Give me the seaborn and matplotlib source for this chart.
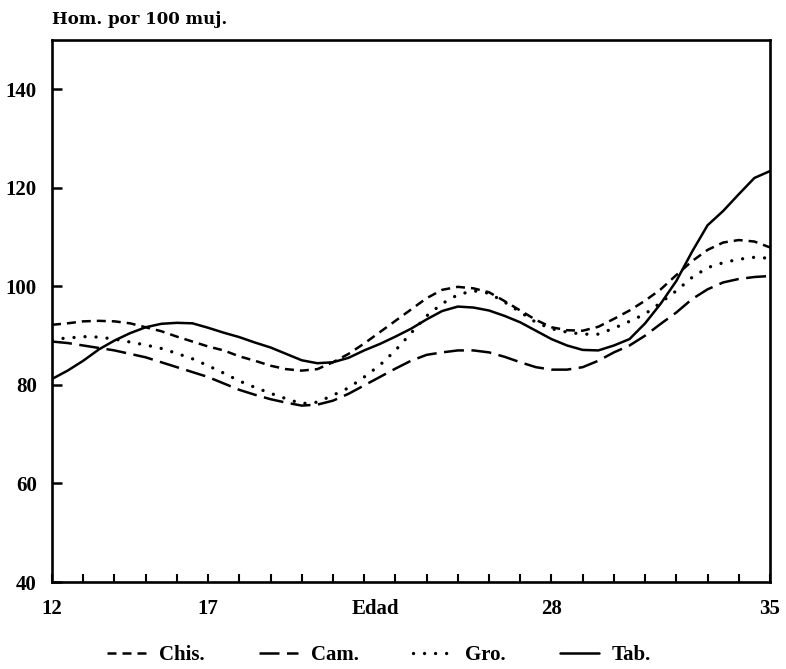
import numpy as np
import pandas as pd
import matplotlib
matplotlib.use("Agg")
import matplotlib.pyplot as plt
import seaborn as sns
from matplotlib.lines import Line2D

# ages read every half year
ages = [12.0, 12.5, 13.0, 13.5, 14.0, 14.5, 15.0, 15.5, 16.0, 16.5, 17.0, 17.5,
        18.0, 18.5, 19.0, 19.5, 20.0, 20.5, 21.0, 21.5, 22.0, 22.5, 23.0, 23.5,
        24.0, 24.5, 25.0, 25.5, 26.0, 26.5, 27.0, 27.5, 28.0, 28.5, 29.0, 29.5,
        30.0, 30.5, 31.0, 31.5, 32.0, 32.5, 33.0, 33.5, 34.0, 34.5, 35.0]
chis = [92.2, 92.5, 92.9, 93.0, 92.9, 92.5, 91.7, 90.9, 89.8, 88.8, 87.8, 87.0,
        85.8, 84.9, 83.9, 83.2, 82.9, 83.2, 84.6, 86.3, 88.4, 90.7, 93.0, 95.3,
        97.6, 99.3, 99.9, 99.6, 98.8, 97.0, 95.1, 93.2, 91.7, 91.1, 91.0, 91.8,
        93.4, 95.1, 97.1, 99.4, 102.3, 105.1, 107.4, 108.9, 109.4, 109.1, 107.9]
cam = [88.8, 88.5, 88.0, 87.5, 87.0, 86.3, 85.6, 84.6, 83.6, 82.6, 81.6, 80.3,
       79.0, 78.0, 77.1, 76.4, 75.8, 76.0, 76.8, 78.2, 79.9, 81.6, 83.3, 84.9,
       86.1, 86.6, 87.0, 87.0, 86.6, 85.7, 84.6, 83.6, 83.1, 83.1, 83.6, 84.9,
       86.6, 88.0, 90.0, 92.4, 94.7, 97.4, 99.4, 100.8, 101.5, 101.9, 102.1]
gro = [89.3, 89.5, 89.8, 89.7, 89.3, 88.7, 88.1, 87.4, 86.4, 85.3, 83.9, 82.4,
       80.8, 79.5, 78.3, 77.2, 76.2, 76.5, 77.9, 79.4, 81.6, 84.0, 87.0, 90.5,
       94.0, 96.5, 98.3, 99.1, 98.6, 96.8, 94.8, 92.7, 91.4, 90.7, 90.3, 90.3,
       91.5, 92.9, 94.4, 96.7, 99.1, 101.8, 103.8, 104.8, 105.5, 105.9, 105.7]
tab = [81.2, 82.9, 84.9, 87.2, 89.0, 90.5, 91.7, 92.4, 92.6, 92.5, 91.6, 90.6,
       89.7, 88.6, 87.6, 86.3, 85.0, 84.4, 84.6, 85.5, 87.0, 88.3, 89.8, 91.4,
       93.3, 95.0, 95.9, 95.7, 95.1, 94.0, 92.7, 91.0, 89.3, 88.0, 87.1, 87.0,
       88.0, 89.3, 92.5, 96.5, 101.1, 107.0, 112.4, 115.3, 118.7, 122.0, 123.4]
series_names = ["Chis.", "Cam.", "Gro.", "Tab."]
x_tick_vals = [12, 17, 28, 35]
x_minor_vals = list(range(12, 36))
y_tick_vals = [40, 60, 80, 100, 120, 140]
y_label = "Hom. por 100 muj."
x_label = "Edad"
x_label_pos = 22.35

sns.set_theme(style="white")
plt.rcParams['font.family'] = ['Liberation Serif', 'DejaVu Serif']
plt.rcParams['text.color'] = 'black'
plt.rcParams['xtick.color'] = 'black'
plt.rcParams['ytick.color'] = 'black'
plt.rcParams['axes.labelcolor'] = 'black'

df = pd.DataFrame({
    "age": ages * 4,
    "value": chis + cam + gro + tab,
    "estado": sum([[n] * len(ages) for n in series_names], []),
})

lw = 1.8
dash_map = {
    "Chis.": (3.6, 2.4),
    "Cam.": (8.0, 3.0),
    "Gro.": (0.01, 3.3),
    "Tab.": "",
}

fig = plt.figure(figsize=(7.86, 6.69), dpi=100)
ax = fig.add_axes([52/786, 1-582/669, (770-52)/786, (582-40)/669])

sns.lineplot(data=df, x="age", y="value", hue="estado", style="estado",
             dashes=dash_map, palette=["black"] * 4, linewidth=lw,
             legend=False, ax=ax)
lines = ax.get_lines()
for ln, n in zip(lines, series_names):
    ln.set_solid_joinstyle("round")
    if n == "Gro.":
        ln.set_dash_capstyle("round")
        ln.set_linewidth(2.4)
    else:
        ln.set_dash_capstyle("butt")

ax.set_xlim(12, 35)
ax.set_ylim(40, 150)
ax.set_xlabel("")
ax.set_ylabel("")

for s in ax.spines.values():
    s.set_linewidth(1.9)
    s.set_color("black")

tick_font = {"size": 15, "weight": "bold", "color": "black"}
ax.set_xticks(x_tick_vals)
ax.set_xticklabels([str(v) for v in x_tick_vals], fontdict=tick_font)
ax.set_xticks(x_minor_vals, minor=True)
ax.tick_params(axis="x", which="both", direction="in", length=6, width=1.5,
               color="black", pad=12, bottom=True, top=False)
ax.set_yticks(y_tick_vals)
ax.set_yticklabels([str(v) for v in y_tick_vals], fontdict=tick_font)
ax.tick_params(axis="y", which="major", direction="in", length=7, width=1.8,
               color="black", pad=11, left=True, right=False)

ax.text((x_label_pos - 12) / 23, -0.031, x_label, transform=ax.transAxes,
        ha="center", va="top", fontdict=tick_font)

fig.text(52/786, 1-19/669, y_label, ha="left", va="center",
         fontsize=12, family="DejaVu Serif", weight="bold", color="black")

handles = []
for n in series_names:
    if dash_map[n]:
        h = Line2D([0], [0], color="black", lw=2.4 if n == "Gro." else lw,
                   dashes=dash_map[n],
                   dash_capstyle="round" if n == "Gro." else "butt")
    else:
        h = Line2D([0], [0], color="black", lw=lw, linestyle="-")
    handles.append(h)
leg = fig.legend(handles, series_names, loc="center", ncol=4,
                 bbox_to_anchor=(0.482, 1-655/669), frameon=False,
                 prop={"size": 15, "weight": "bold"}, handlelength=1.9,
                 columnspacing=2.6, handletextpad=0.6)
for t in leg.get_texts():
    t.set_color("black")

fig.savefig("out.png", dpi=100, facecolor="white")
